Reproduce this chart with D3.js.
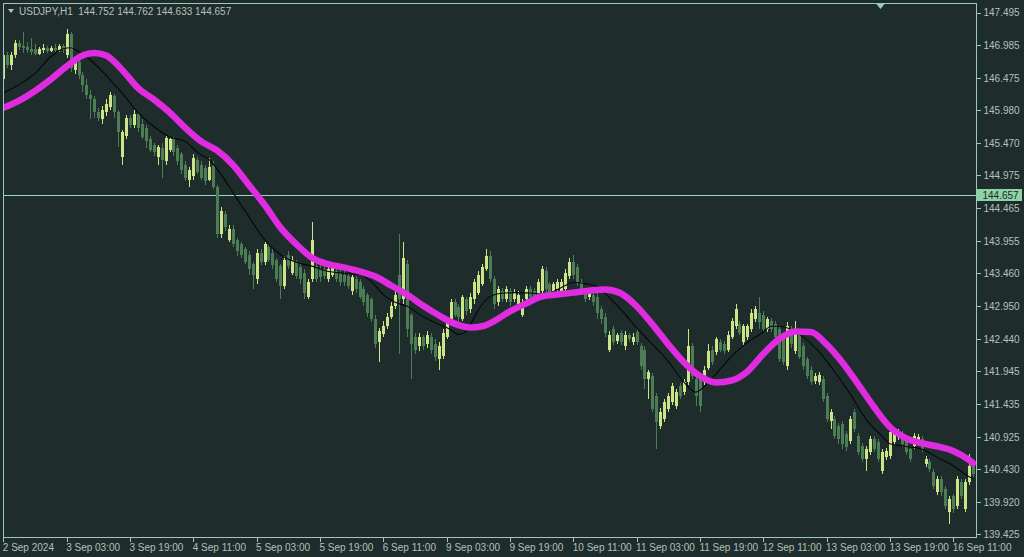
<!DOCTYPE html>
<html><head><meta charset="utf-8">
<script src="https://cdn.jsdelivr.net/npm/d3@7"></script>
<style>html,body{margin:0;padding:0;background:#1f2c2c;} svg{display:block}</style>
</head><body>
<svg id="c" width="1024" height="557"></svg>
<script>
const symbolTitle = "USDJPY,H1  144.752 144.762 144.633 144.657";
const lastPrice = 144.657;

const open = [146.46,146.84,146.69,146.83,147.03,146.98,146.96,146.93,146.93,146.86,146.92,146.95,146.90,146.95,146.92,146.98,146.84,147.17,146.61,146.73,
146.53,146.38,146.22,146.15,145.96,145.84,145.95,146.04,146.21,145.96,145.26,145.59,145.87,145.76,145.93,145.77,145.71,145.53,145.44,145.26,
145.40,145.19,145.37,145.53,145.40,145.30,145.14,144.91,144.96,145.22,145.14,145.09,144.91,145.14,144.80,144.06,144.37,143.98,144.14,143.98,
143.91,143.83,143.75,143.60,143.37,143.78,143.64,143.87,143.78,143.67,143.57,143.26,143.75,143.47,143.63,143.55,143.47,143.10,143.37,143.57,
143.52,143.52,143.37,143.44,143.49,143.47,143.44,143.41,143.18,143.37,143.32,143.21,143.12,143.06,142.75,142.39,142.52,142.64,142.79,142.95,
143.44,143.06,143.60,142.82,142.48,142.33,142.47,142.36,142.48,142.36,142.13,142.18,142.48,142.75,143.01,142.93,142.75,143.06,142.90,143.06,
143.16,143.29,143.52,143.72,143.37,143.01,143.18,143.06,143.18,143.06,142.98,142.82,143.06,143.21,143.18,143.13,143.18,143.49,143.29,143.18,
143.21,143.16,143.21,143.41,143.64,143.55,143.32,143.16,143.09,143.13,143.10,142.90,142.79,142.28,142.59,142.41,142.53,142.33,142.51,142.39,
142.55,142.33,142.28,141.82,141.87,141.56,141.09,141.20,141.36,141.46,141.40,141.71,141.62,141.77,142.33,141.82,141.82,141.77,142.00,142.28,
142.24,142.39,142.36,142.28,142.48,142.64,142.67,142.39,142.47,142.59,142.75,142.85,142.82,142.59,142.72,142.67,142.59,142.44,142.02,142.59,
142.25,142.51,142.33,142.13,141.97,141.79,141.77,141.82,141.56,141.17,141.20,141.09,141.12,140.97,140.86,141.31,140.94,140.78,140.58,140.69,
140.89,140.85,140.40,140.61,140.63,140.85,140.92,140.97,140.89,140.74,140.78,140.85,140.89,140.51,140.54,140.38,140.07,140.28,140.12,139.77,
140.01,139.86,140.23,139.81,140.23,140.48];

const high = [146.92,146.89,146.89,147.07,147.07,147.20,147.04,147.10,147.00,146.96,147.00,146.98,146.98,147.00,147.01,147.01,147.24,147.20,146.76,146.76,
146.58,146.46,146.30,146.21,146.02,146.05,146.15,146.27,146.24,145.99,145.68,145.91,145.91,145.99,145.96,145.84,145.76,145.59,145.48,145.45,
145.48,145.59,145.57,145.57,145.45,145.34,145.19,145.11,145.30,145.26,145.19,145.14,145.25,145.19,144.83,144.48,144.42,144.20,144.20,144.01,
143.95,143.87,143.80,143.64,143.83,143.83,143.95,143.92,143.83,143.70,143.60,143.72,143.80,143.73,143.67,143.60,143.52,143.37,144.26,143.64,
143.58,143.57,143.57,143.60,143.53,143.52,143.49,143.47,143.44,143.41,143.37,143.26,143.16,143.10,142.82,142.62,142.72,142.84,143.01,143.21,
144.06,143.94,143.67,142.85,142.54,142.54,142.51,142.56,142.54,142.44,142.39,142.59,142.75,143.06,143.06,142.98,143.13,143.10,143.15,143.37,
143.49,143.60,143.83,143.80,143.41,143.26,143.23,143.26,143.23,143.21,143.18,143.06,143.27,143.26,143.23,143.37,143.57,143.55,143.33,143.33,
143.37,143.37,143.52,143.70,143.75,143.60,143.37,143.21,143.23,143.18,143.15,142.96,142.84,142.56,142.64,142.54,142.58,142.56,142.54,142.53,
142.59,142.38,142.33,141.97,141.91,141.60,141.37,141.51,141.60,141.76,141.67,141.76,141.82,142.59,142.38,141.87,141.87,142.02,142.36,142.33,
142.48,142.44,142.41,142.56,142.76,142.98,142.72,142.68,142.68,142.90,142.96,143.09,142.87,142.79,142.76,142.72,142.64,142.48,142.70,142.64,
142.72,142.56,142.38,142.17,142.02,141.91,141.93,141.87,141.60,141.36,141.25,141.14,141.17,141.02,141.25,141.36,140.99,140.83,140.78,140.94,
140.94,140.89,140.74,140.75,141.05,141.05,141.05,141.02,140.94,140.78,140.99,140.97,140.94,140.63,140.58,140.43,140.32,140.32,140.17,140.01,
140.05,140.32,140.28,140.28,140.66,140.52];

const low = [146.33,146.64,146.61,146.79,146.92,146.87,146.87,146.84,146.83,146.83,146.87,146.87,146.89,146.89,146.89,146.87,146.79,146.58,146.55,146.46,
146.27,146.15,145.84,145.87,145.81,145.77,145.90,145.99,145.87,145.42,145.14,145.53,145.71,145.71,145.64,145.53,145.40,145.33,145.28,145.14,
144.94,145.14,145.33,145.28,145.13,144.99,144.88,144.79,144.91,144.99,144.91,144.83,144.88,144.76,144.01,144.01,144.11,143.94,143.86,143.73,
143.70,143.60,143.44,143.21,143.29,143.58,143.58,143.63,143.52,143.32,143.06,143.21,143.52,143.43,143.37,143.29,143.06,143.06,143.32,143.32,
143.33,143.37,143.32,143.40,143.32,143.27,143.26,143.21,143.13,143.16,143.06,142.96,142.79,142.70,142.31,142.08,142.47,142.59,142.75,142.90,
142.21,142.98,142.48,141.82,142.21,142.25,142.28,142.31,142.21,142.10,141.97,142.13,142.44,142.70,142.78,142.72,142.72,142.82,142.85,142.99,
143.12,143.26,143.49,143.32,142.90,142.96,143.01,143.01,142.96,143.01,142.93,142.78,143.01,143.04,143.02,143.09,143.13,143.16,143.12,143.13,
143.16,143.12,143.16,143.37,143.37,143.27,143.12,143.01,143.04,142.96,142.75,142.67,142.48,142.24,142.35,142.36,142.35,142.28,142.39,142.35,
142.35,141.97,141.67,141.51,141.31,140.74,141.05,141.16,141.31,141.42,141.36,141.51,141.57,141.73,141.82,141.40,141.31,141.73,141.96,142.04,
142.19,142.24,142.21,142.24,142.44,142.59,142.50,142.35,142.42,142.55,142.70,142.59,142.55,142.55,142.55,142.44,142.08,142.04,141.97,142.31,
142.21,142.13,141.97,141.82,141.73,141.74,141.73,141.46,141.16,141.05,140.89,140.82,140.74,140.71,140.82,141.00,140.65,140.54,140.40,140.65,
140.69,140.54,140.35,140.57,140.58,140.80,140.88,140.77,140.65,140.54,140.74,140.80,140.69,140.46,140.38,140.12,140.03,140.01,139.81,139.58,
139.75,139.81,139.97,139.76,140.18,140.31];

const close = [146.84,146.69,146.84,147.03,146.96,146.95,146.92,146.89,146.86,146.93,146.95,146.90,146.95,146.92,146.98,146.92,147.17,146.64,146.73,146.53,
146.38,146.22,146.15,145.96,145.87,145.99,146.08,146.22,145.96,145.65,145.64,145.87,145.76,145.93,145.71,145.57,145.50,145.37,145.34,145.42,
145.22,145.56,145.53,145.33,145.19,145.06,144.94,145.06,145.25,145.03,144.94,144.88,145.11,144.80,144.06,144.42,144.17,144.14,143.91,143.80,
143.75,143.64,143.52,143.44,143.78,143.64,143.91,143.67,143.58,143.37,143.26,143.67,143.57,143.67,143.41,143.37,143.16,143.32,143.98,143.37,
143.40,143.41,143.52,143.55,143.37,143.32,143.32,143.26,143.40,143.21,143.10,143.01,142.85,142.75,142.36,142.56,142.64,142.79,142.95,143.13,
143.06,143.70,142.59,142.36,142.28,142.48,142.33,142.51,142.28,142.16,142.33,142.54,142.70,143.01,142.82,142.78,143.09,142.87,143.10,143.32,
143.44,143.55,143.72,143.37,142.98,143.21,143.06,143.21,143.01,143.16,143.13,142.98,143.21,143.09,143.09,143.32,143.52,143.21,143.16,143.29,
143.32,143.32,143.47,143.64,143.44,143.32,143.16,143.06,143.18,143.01,142.85,142.75,142.54,142.51,142.39,142.50,142.39,142.51,142.44,142.48,
142.39,142.02,141.82,141.93,141.36,141.16,141.32,141.46,141.56,141.71,141.62,141.56,141.77,142.33,141.87,141.56,141.40,141.97,142.25,142.08,
142.44,142.28,142.25,142.51,142.72,142.90,142.54,142.64,142.64,142.85,142.90,142.70,142.59,142.75,142.59,142.48,142.13,142.08,142.64,142.36,
142.59,142.17,142.02,141.87,141.77,141.87,141.88,141.51,141.20,141.31,140.94,140.89,140.82,140.77,141.20,141.05,140.69,140.58,140.74,140.89,
140.74,140.58,140.69,140.71,141.00,141.00,141.00,140.82,140.69,140.58,140.94,140.92,140.74,140.58,140.43,140.17,140.28,140.07,139.86,139.97,
139.81,140.28,140.01,140.23,140.48,140.35];

// thick magenta average: bar index -> value
const slowMaBar = [0,4,8,12,16,20,23,26,30,34,38,42,46,50,54,58,62,66,70,74,78,82,86,90,94,98,102,106,110,114,118,121,124,128,132,136,140,144,148,152,156,160,164,168,172,176,180,184,188,192,196,200,204,208,212,216,220,224,228,232,236,240,244,245];
const slowMa = [146.02,146.13,146.28,146.46,146.66,146.83,146.87,146.83,146.61,146.33,146.15,145.95,145.71,145.50,145.36,145.14,144.83,144.52,144.17,143.91,143.70,143.60,143.55,143.49,143.41,143.27,143.13,142.96,142.81,142.68,142.62,142.64,142.72,142.87,142.99,143.10,143.13,143.16,143.19,143.21,143.15,142.95,142.67,142.36,142.08,141.87,141.77,141.80,141.94,142.21,142.44,142.56,142.55,142.36,142.08,141.74,141.39,141.08,140.91,140.83,140.78,140.71,140.57,140.52];

// thin black average: bar index -> value
const fastMaBar = [0,4,8,12,15,17,19,22,26,30,34,38,42,46,49,52,55,58,62,66,70,74,78,82,86,90,93,96,99,102,106,110,113,115,117,119,121,123,126,130,134,137,140,142,144,147,150,153,156,160,164,168,172,175,177,180,184,188,192,194,196,199,202,206,210,214,218,222,224,228,232,236,240,243,245];
const fastMa = [146.25,146.38,146.55,146.81,146.93,146.95,146.89,146.76,146.52,146.25,145.95,145.73,145.57,145.50,145.33,145.22,144.99,144.71,144.34,143.98,143.75,143.63,143.57,143.49,143.46,143.44,143.33,143.13,143.01,142.95,142.79,142.67,142.59,142.51,142.56,142.78,142.98,143.10,143.15,143.16,143.15,143.13,143.21,143.27,143.32,143.30,143.26,143.09,142.90,142.62,142.36,142.10,141.77,141.62,141.70,141.90,142.17,142.39,142.55,142.64,142.64,142.59,142.48,142.25,141.94,141.59,141.20,140.94,140.82,140.78,140.74,140.61,140.48,140.35,140.28];

const xTickBar = [0,16,32,48,64,80,96,112,128,144,160,176,192,208,224,240];
const xTickLabels = ["2 Sep 2024","3 Sep 03:00","3 Sep 19:00","4 Sep 11:00","5 Sep 03:00","5 Sep 19:00","6 Sep 11:00","9 Sep 03:00","9 Sep 19:00","10 Sep 11:00","11 Sep 03:00","11 Sep 19:00","12 Sep 11:00","13 Sep 03:00","13 Sep 19:00","16 Sep 11:00"];
const yTicks = [147.495,146.985,146.475,145.980,145.470,144.975,144.465,143.955,143.460,142.950,142.440,141.945,141.435,140.925,140.430,139.920,139.425];

const W = 1024, H = 557;
const plotL = 3.5, plotR = 976.5, plotT = 3.5, plotB = 537.5;
const bg = "#1f2c2c", frame = "#9cc9bb", txt = "#b2c2ba";
const bullCol = "#cde588", bearCol = "#4d7d57";
const font = "'Liberation Sans', Arial, sans-serif";

const svg = d3.select("#c");
svg.append("rect").attr("width", W).attr("height", H).attr("fill", bg);

const x = d3.scaleLinear().domain([0, 245]).range([3.3, 973.0]);
const y = d3.scaleLinear().domain([139.425, 147.495]).range([534, 12.5]);

svg.append("clipPath").attr("id", "pc").append("rect")
  .attr("x", plotL).attr("y", plotT).attr("width", plotR - plotL).attr("height", plotB - plotT);

const plot = svg.append("g").attr("clip-path", "url(#pc)");

// price line
const py = Math.round(y(lastPrice)) - 0.5;
plot.append("line").attr("x1", plotL).attr("x2", plotR)
  .attr("y1", py).attr("y2", py)
  .attr("stroke", "#9fd6c0").attr("stroke-width", 1);

// candles
const bars = d3.range(open.length);
const cg = plot.append("g").attr("shape-rendering", "crispEdges");
bars.forEach(i => {
  const cx = Math.round(x(i));
  const up = close[i] >= open[i];
  const col = up ? bullCol : bearCol;
  cg.append("line").attr("x1", cx + 0.5).attr("x2", cx + 0.5)
    .attr("y1", y(high[i])).attr("y2", y(low[i])).attr("stroke", col).attr("stroke-width", 1);
  const yt = y(Math.max(open[i], close[i])), yb = y(Math.min(open[i], close[i]));
  cg.append("rect").attr("x", cx - 1).attr("width", 3)
    .attr("y", yt).attr("height", Math.max(1, yb - yt)).attr("fill", col);
});

// averages
const line = d3.line().curve(d3.curveMonotoneX);
plot.append("path")
  .attr("d", line(fastMaBar.map((b, k) => [x(b), y(fastMa[k])])))
  .attr("fill", "none").attr("stroke", "#050807").attr("stroke-width", 1.1);
plot.append("path")
  .attr("d", line(slowMaBar.map((b, k) => [x(b), y(slowMa[k])])))
  .attr("fill", "none").attr("stroke", "#e02ce0").attr("stroke-width", 6.5)
  .attr("stroke-linecap", "round").attr("stroke-linejoin", "round");

// frame
svg.append("rect").attr("x", plotL).attr("y", plotT).attr("width", plotR - plotL).attr("height", plotB - plotT)
  .attr("fill", "none").attr("stroke", frame).attr("stroke-width", 1).attr("shape-rendering", "crispEdges");

// y axis
const yAxis = d3.axisRight(y).tickValues(yTicks).tickSize(4).tickPadding(3).tickFormat(d3.format(".3f"));
const ya = svg.append("g").attr("transform", `translate(${plotR},0)`).call(yAxis);
ya.select(".domain").remove();
ya.selectAll(".tick line").attr("stroke", frame).attr("shape-rendering", "crispEdges");
ya.selectAll(".tick text").attr("fill", txt).style("font-family", font).style("font-size", "10px");

// x axis
const xAxis = d3.axisBottom(x).tickValues(xTickBar).tickSize(4).tickPadding(2)
  .tickFormat((d, k) => xTickLabels[k]);
const xa = svg.append("g").attr("transform", `translate(0,${plotB})`).call(xAxis);
xa.select(".domain").remove();
xa.selectAll(".tick line").attr("stroke", frame).attr("shape-rendering", "crispEdges");
xa.selectAll(".tick text").attr("fill", txt).attr("text-anchor", "start").attr("dx", "-1")
  .style("font-family", font).style("font-size", "10px");

// current price label
svg.append("rect").attr("x", plotR + 0.5).attr("y", py - 6.5).attr("width", 45).attr("height", 12)
  .attr("fill", "#8dd3a5");
svg.append("text").attr("x", plotR + 6).attr("y", py + 3.5).text(d3.format(".3f")(lastPrice))
  .attr("fill", "#1c2a26").style("font-family", font).style("font-size", "10px");

// title
svg.append("path").attr("d", "M8,9 L14,9 L11,13 Z").attr("fill", txt);
svg.append("text").attr("x", 19).attr("y", 15).text(symbolTitle)
  .attr("fill", txt).style("font-family", font).style("font-size", "10px")
  .style("white-space", "pre");

// shift marker
svg.append("path").attr("d", "M876,3.5 L885,3.5 L880.5,9 Z").attr("fill", "#8fcfc0");
</script>
</body></html>
